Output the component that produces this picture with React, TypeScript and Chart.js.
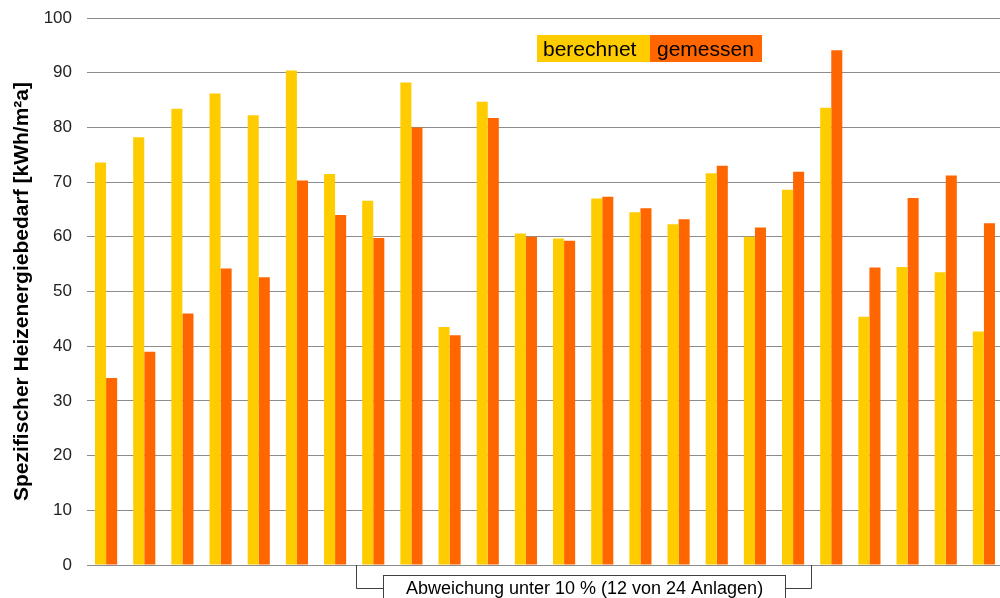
import React, { useEffect, useRef } from "react";
import { Chart, registerables } from "chart.js";

Chart.register(...registerables);

const categories = [
  "1", "2", "3", "4", "5", "6", "7", "8", "9", "10", "11", "12",
  "13", "14", "15", "16", "17", "18", "19", "20", "21", "22", "23", "24",
];
const berechnet = [
  73.6, 78.2, 83.4, 86.2, 82.2, 90.4, 71.5, 66.6, 88.2, 43.5, 84.7, 60.6,
  59.7, 67.0, 64.5, 62.3, 71.6, 60.0, 68.6, 83.6, 45.4, 54.5, 53.5, 42.7,
];
const gemessen = [
  34.2, 39.0, 46.0, 54.2, 52.6, 70.3, 64.0, 59.8, 80.0, 42.0, 81.7, 60.0,
  59.3, 67.3, 65.2, 63.2, 73.0, 61.7, 71.9, 94.1, 54.4, 67.1, 71.2, 62.5,
];
const seriesLabels = ["berechnet", "gemessen"];
const yTitle = "Spezifischer Heizenergiebedarf [kWh/m²a]";
const bracketText = "Abweichung unter 10 % (12 von 24 Anlagen)";
const bracketFirst = 7;
const bracketLast = 18;

const YELLOW = "#FFCC00";
const ORANGE = "#FF6600";
const FONT = "'Liberation Sans', Arial, sans-serif";

const overlayPlugin = {
  id: "overlay",
  afterDraw(chart: any) {
    const ctx = chart.ctx as CanvasRenderingContext2D;
    const x = chart.scales.x;
    const area = chart.chartArea;
    ctx.save();
    // legend
    ctx.fillStyle = YELLOW;
    ctx.fillRect(537, 35, 113, 27);
    ctx.fillStyle = ORANGE;
    ctx.fillRect(650, 35, 112, 27);
    ctx.fillStyle = "#000";
    ctx.font = `21px ${FONT}`;
    ctx.textBaseline = "alphabetic";
    ctx.textAlign = "left";
    ctx.fillText(seriesLabels[0], 543, 56);
    ctx.fillText(seriesLabels[1], 657, 56);

    // bracket
    const catW = (area.right - area.left) / categories.length;
    const lx = Math.round(x.getPixelForValue(bracketFirst) - catW / 2 + 1.5) + 0.5;
    const rx = Math.round(x.getPixelForValue(bracketLast) + catW / 2) - 0.5;
    const y0 = Math.round(area.bottom);
    const yh = 588.5;
    const boxL = 383.5;
    const boxR = 785.5;
    ctx.strokeStyle = "#404040";
    ctx.lineWidth = 1;
    ctx.beginPath();
    ctx.moveTo(lx, y0);
    ctx.lineTo(lx, yh);
    ctx.lineTo(boxL, yh);
    ctx.moveTo(rx, y0);
    ctx.lineTo(rx, yh);
    ctx.lineTo(boxR, yh);
    ctx.stroke();
    ctx.fillStyle = "#fff";
    ctx.fillRect(boxL, 575.5, boxR - boxL, 30);
    ctx.strokeRect(boxL, 575.5, boxR - boxL, 30);
    ctx.fillStyle = "#000";
    ctx.font = `18px ${FONT}`;
    ctx.textAlign = "center";
    ctx.fillText(bracketText, (boxL + boxR) / 2, 594);
    ctx.restore();
  },
};

export default function App() {
  const ref = useRef<HTMLCanvasElement>(null);
  useEffect(() => {
    if (!ref.current) return;
    const chart = new Chart(ref.current, {
      type: "bar",
      data: {
        labels: categories,
        datasets: [
          {
            label: seriesLabels[0],
            data: berechnet,
            backgroundColor: YELLOW,
            categoryPercentage: 0.58,
            barPercentage: 1.0,
          },
          {
            label: seriesLabels[1],
            data: gemessen,
            backgroundColor: ORANGE,
            categoryPercentage: 0.58,
            barPercentage: 1.0,
          },
        ],
      },
      options: {
        animation: false,
        responsive: false,
        maintainAspectRatio: false,
        layout: { padding: { top: 18, bottom: 33, left: 0, right: 0 } },
        plugins: {
          legend: { display: false },
          tooltip: { enabled: false },
        },
        scales: {
          x: { display: false },
          y: {
            min: 0,
            max: 100,
            afterFit: (s: any) => {
              s.width = 87;
              s.paddingTop = 0;
              s.paddingBottom = 0;
            },
            ticks: {
              stepSize: 10,
              color: "#222",
              padding: 15,
              font: { family: FONT, size: 17 },
            },
            grid: { color: "#8c8c8c", lineWidth: 1, drawTicks: false },
            border: { display: false },
            title: {
              display: true,
              text: yTitle,
              color: "#000",
              padding: { top: 10, bottom: 0 },
              font: { family: FONT, size: 21, weight: "bold" },
            },
          },
        },
      },
      plugins: [overlayPlugin],
    });
    return () => chart.destroy();
  }, []);
  return (
    <div
      style={{
        position: "fixed",
        left: 0,
        top: 0,
        width: 1000,
        height: 598,
        overflow: "hidden",
        background: "#fff",
      }}
    >
      <canvas ref={ref} width={1003} height={598} style={{ display: "block" }} />
    </div>
  );
}
